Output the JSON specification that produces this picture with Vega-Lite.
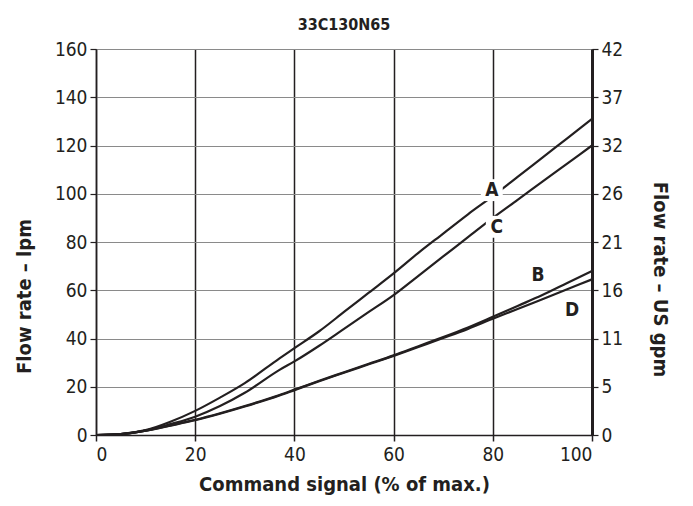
{
  "$schema": "https://vega.github.io/schema/vega-lite/v6.json",
  "width": 496,
  "height": 386,
  "autosize": {"type": "none"},
  "padding": {"left": 96, "top": 49, "right": 101, "bottom": 71},
  "background": "white",
  "title": {"text": "33C130N65", "font": "DejaVu Sans Condensed, sans-serif", "fontSize": 16, "fontWeight": "bold", "color": "#231f20", "anchor": "middle", "offset": 7},
  "config": {
    "view": {"stroke": "#777777", "strokeWidth": 1},
    "axis": {"labelFont": "DejaVu Sans Condensed, sans-serif", "titleFont": "DejaVu Sans Condensed, sans-serif", "labelFontSize": 19, "titleFontSize": 20, "titleFontWeight": "bold", "labelColor": "#231f20", "titleColor": "#231f20"}
  },
  "datasets": {
    "curves": [
      {"s": "A", "x": 0, "y": 0}, {"s": "A", "x": 5, "y": 0.4}, {"s": "A", "x": 10, "y": 2}, {"s": "A", "x": 15, "y": 5.5}, {"s": "A", "x": 20, "y": 10}, {"s": "A", "x": 25, "y": 15.5}, {"s": "A", "x": 30, "y": 21.5}, {"s": "A", "x": 37, "y": 31.8}, {"s": "A", "x": 40, "y": 36}, {"s": "A", "x": 45, "y": 43}, {"s": "A", "x": 50, "y": 51}, {"s": "A", "x": 55, "y": 59}, {"s": "A", "x": 60, "y": 67}, {"s": "A", "x": 65, "y": 75.5}, {"s": "A", "x": 70, "y": 83.5}, {"s": "A", "x": 75, "y": 91.5}, {"s": "A", "x": 80, "y": 99}, {"s": "A", "x": 85, "y": 107}, {"s": "A", "x": 90, "y": 115}, {"s": "A", "x": 95, "y": 123}, {"s": "A", "x": 100, "y": 131},
      {"s": "C", "x": 0, "y": 0}, {"s": "C", "x": 5, "y": 0.4}, {"s": "C", "x": 10, "y": 1.8}, {"s": "C", "x": 15, "y": 4.5}, {"s": "C", "x": 20, "y": 7.6}, {"s": "C", "x": 25, "y": 12}, {"s": "C", "x": 30, "y": 17.5}, {"s": "C", "x": 37, "y": 27}, {"s": "C", "x": 40, "y": 30.5}, {"s": "C", "x": 45, "y": 37}, {"s": "C", "x": 50, "y": 44}, {"s": "C", "x": 55, "y": 51}, {"s": "C", "x": 60, "y": 58}, {"s": "C", "x": 65, "y": 66}, {"s": "C", "x": 70, "y": 74}, {"s": "C", "x": 75, "y": 82}, {"s": "C", "x": 80, "y": 90}, {"s": "C", "x": 85, "y": 97.5}, {"s": "C", "x": 90, "y": 105}, {"s": "C", "x": 95, "y": 112.5}, {"s": "C", "x": 100, "y": 120},
      {"s": "B", "x": 0, "y": 0}, {"s": "B", "x": 5, "y": 0.4}, {"s": "B", "x": 10, "y": 1.8}, {"s": "B", "x": 15, "y": 4}, {"s": "B", "x": 20, "y": 6.3}, {"s": "B", "x": 25, "y": 9}, {"s": "B", "x": 30, "y": 12}, {"s": "B", "x": 37, "y": 16.6}, {"s": "B", "x": 40, "y": 18.8}, {"s": "B", "x": 45, "y": 22.5}, {"s": "B", "x": 50, "y": 26}, {"s": "B", "x": 55, "y": 29.5}, {"s": "B", "x": 60, "y": 33}, {"s": "B", "x": 65, "y": 36.8}, {"s": "B", "x": 70, "y": 40.6}, {"s": "B", "x": 75, "y": 44.6}, {"s": "B", "x": 80, "y": 49}, {"s": "B", "x": 85, "y": 53.5}, {"s": "B", "x": 90, "y": 58}, {"s": "B", "x": 95, "y": 63}, {"s": "B", "x": 100, "y": 68},
      {"s": "D", "x": 0, "y": 0}, {"s": "D", "x": 5, "y": 0.4}, {"s": "D", "x": 10, "y": 1.8}, {"s": "D", "x": 15, "y": 3.9}, {"s": "D", "x": 20, "y": 6.1}, {"s": "D", "x": 25, "y": 8.8}, {"s": "D", "x": 30, "y": 11.8}, {"s": "D", "x": 37, "y": 16.4}, {"s": "D", "x": 40, "y": 18.6}, {"s": "D", "x": 45, "y": 22.3}, {"s": "D", "x": 50, "y": 25.8}, {"s": "D", "x": 55, "y": 29.3}, {"s": "D", "x": 60, "y": 32.8}, {"s": "D", "x": 65, "y": 36.5}, {"s": "D", "x": 70, "y": 40.2}, {"s": "D", "x": 75, "y": 44}, {"s": "D", "x": 80, "y": 48.2}, {"s": "D", "x": 85, "y": 52.2}, {"s": "D", "x": 90, "y": 56.3}, {"s": "D", "x": 95, "y": 60.4}, {"s": "D", "x": 100, "y": 64.5}
    ],
    "labels": [
      {"s": "A", "x": 79.8, "y": 101.5, "box": true},
      {"s": "C", "x": 80.8, "y": 86.3, "box": true},
      {"s": "B", "x": 89.1, "y": 66.4, "box": false},
      {"s": "D", "x": 96, "y": 51.9, "box": false}
    ]
  },
  "layer": [
    {
      "data": {"name": "curves"},
      "mark": {"type": "line", "strokeWidth": 2.2, "color": "#231f20", "interpolate": "monotone"},
      "encoding": {
        "x": {"field": "x", "type": "quantitative", "scale": {"domain": [0, 100], "nice": false},
          "axis": {"title": "Command signal (% of max.)", "values": [0, 20, 40, 60, 80, 100], "grid": true, "gridColor": "#231f20", "gridWidth": 1.5, "domainColor": "#231f20", "domainWidth": 1.5, "tickColor": "#231f20", "tickWidth": 1.5, "tickSize": 6, "labelPadding": 4, "titlePadding": 10}},
        "y": {"field": "y", "type": "quantitative", "scale": {"domain": [0, 160], "nice": false},
          "axis": {"title": "Flow rate – lpm", "orient": "left", "values": [0, 20, 40, 60, 80, 100, 120, 140, 160], "grid": true, "gridColor": "#8a8a8a", "gridWidth": 1, "domainColor": "#231f20", "domainWidth": 1.5, "tickColor": "#231f20", "tickWidth": 1.2, "tickSize": 6, "labelPadding": 3, "titleX": -72, "titleY": 247, "titleBaseline": "middle", "titleAngle": -90, "titleAlign": "center"}},
        "detail": {"field": "s"}
      }
    },
    {
      "data": {"name": "curves"},
      "mark": {"type": "line", "opacity": 0},
      "encoding": {
        "x": {"field": "x", "type": "quantitative", "scale": {"domain": [0, 100], "nice": false}},
        "y": {"field": "y", "type": "quantitative", "scale": {"domain": [0, 160], "nice": false},
          "axis": {"title": "Flow rate – US gpm", "orient": "right", "values": [0, 20, 40, 60, 80, 100, 120, 140, 160], "labelExpr": "format(round(datum.value / 3.785), 'd')", "grid": false, "domainColor": "#231f20", "domainWidth": 3, "tickColor": "#231f20", "tickWidth": 1.2, "tickSize": 6, "labelPadding": 3, "titleX": 67, "titleY": 230, "titleBaseline": "middle", "titleAngle": 90, "titleAlign": "center"}},
        "detail": {"field": "s"}
      }
    },
    {
      "data": {"name": "labels"},
      "transform": [{"filter": "datum.box"}],
      "mark": {"type": "square", "size": 480, "filled": true, "color": "white", "opacity": 1},
      "encoding": {
        "x": {"field": "x", "type": "quantitative", "scale": {"domain": [0, 100], "nice": false}},
        "y": {"field": "y", "type": "quantitative", "scale": {"domain": [0, 160], "nice": false}, "axis": null}
      }
    },
    {
      "data": {"name": "labels"},
      "mark": {"type": "text", "font": "DejaVu Sans Condensed, sans-serif", "fontSize": 19, "fontWeight": "bold", "color": "#231f20", "align": "center", "baseline": "middle"},
      "encoding": {
        "x": {"field": "x", "type": "quantitative", "scale": {"domain": [0, 100], "nice": false}},
        "y": {"field": "y", "type": "quantitative", "scale": {"domain": [0, 160], "nice": false}, "axis": null},
        "text": {"field": "s"}
      }
    }
  ],
  "resolve": {"scale": {"y": "independent"}}
}
